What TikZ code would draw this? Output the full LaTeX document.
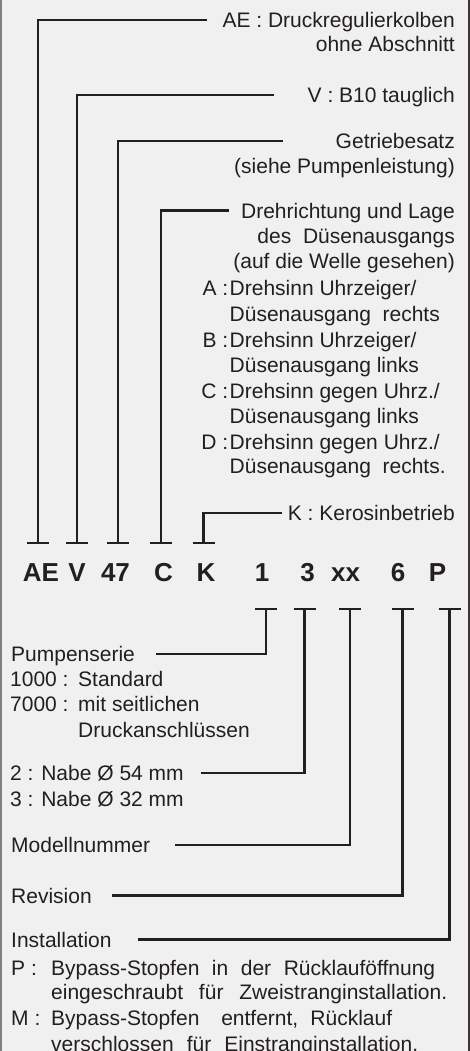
\documentclass[tikz,border=0pt]{standalone}
\usepackage{fontspec}
\setmainfont{Liberation Sans}
\definecolor{panel}{HTML}{F0F0F0}
\definecolor{ink}{HTML}{231F20}
\tikzset{
  lbl/.style={inner sep=0pt, text height=15pt, text depth=0pt, text=ink,
    font=\fontsize{21}{25}\selectfont},
  lblr/.style={lbl, anchor=east},
  lbll/.style={lbl, anchor=west},
  code/.style={inner sep=0pt, text height=19pt, text depth=0pt, text=ink,
    font=\fontsize{26}{30}\selectfont\bfseries},
  conn/.style={draw=ink, line width=2.8pt},
}
\begin{document}
\begin{tikzpicture}[x=1pt, y=-1pt]
\useasboundingbox (0,0) rectangle (470,1051);
\fill[panel] (0,0) rectangle (470,1051);
\draw[gray, line width=1.5pt] (0.75,0) -- (0.75,1051);
\draw[ink!90, line width=2pt] (469,0) -- (469,1051);

% code letters
\node[code] (cAE) at (41,572) {AE};
\node[code] (cV) at (77,572) {V};
\node[code] (c47) at (115.5,572) {47};
\node[code] (cC) at (163.5,572) {C};
\node[code] (cK) at (206,572) {K};
\node[code] (c1) at (262,572) {1};
\node[code] (c3) at (307.5,572) {3};
\node[code] (cxx) at (345.5,572) {xx};
\node[code] (c6) at (398,572) {6};
\node[code] (cP) at (437.5,572) {P};

\coordinate (tAE) at (38,543);
\coordinate (tV) at (77,543);
\coordinate (t47) at (118,543);
\coordinate (tC) at (161,543);
\coordinate (tK) at (203.5,543);
\coordinate (t1) at (266,609);
\coordinate (t3) at (304.5,609);
\coordinate (txx) at (350,609);
\coordinate (t6) at (402.5,609);
\coordinate (tP) at (449.5,609);

% upper labels
\node[lblr] (aeL) at (455,20) {AE : Druckregulierkolben};
\node[lblr] (aeL2) at (455,44) {ohne Abschnitt};
\node[lblr] (vL) at (455,95) {V : B10 tauglich};
\node[lblr] (gL) at (455,141) {Getriebesatz};
\node[lblr] (gL2) at (455,166) {(siehe Pumpenleistung)};
\node[lblr] (dL) at (455,210.5) {Drehrichtung und Lage};
\node[lblr] (dL2) at (455,236) {des\ \ Düsenausgangs};
\node[lblr] (dL3) at (455,261) {(auf die Welle gesehen)};
\node[lblr] (optA) at (228.5,287.5) {A :};
\node[lbll] (optAt) at (229.5,287.5) {Drehsinn Uhrzeiger/};
\node[lbll] (optAt2) at (229.5,313.5) {Düsenausgang\ \ rechts};
\node[lblr] (optB) at (228.5,339.5) {B :};
\node[lbll] (optBt) at (229.5,339.5) {Drehsinn Uhrzeiger/};
\node[lbll] (optBt2) at (229.5,364.5) {Düsenausgang links};
\node[lblr] (optC) at (228.5,390.5) {C :};
\node[lbll] (optCt) at (229.5,390.5) {Drehsinn gegen Uhrz./};
\node[lbll] (optCt2) at (229.5,415.5) {Düsenausgang links};
\node[lblr] (optD) at (228.5,441.5) {D :};
\node[lbll] (optDt) at (229.5,441.5) {Drehsinn gegen Uhrz./};
\node[lbll] (optDt2) at (229.5,465.5) {Düsenausgang\ \ rechts.};
\node[lblr] (kL) at (455,513) {K : Kerosinbetrieb};

% lower labels
\node[lbll] (pumpL) at (11,654) {Pumpenserie};
\node[lbll] (s1000) at (10,679) {1000 :};
\node[lbll] (s1000t) at (78,679) {Standard};
\node[lbll] (s7000) at (10,704) {7000 :};
\node[lbll] (s7000t) at (78,704) {mit seitlichen};
\node[lbll] (s7000t2) at (78,730) {Druckanschlüssen};
\node[lbll] (nabeA) at (10,773) {2 : Nabe Ø 54 mm};
\node[lbll] (nabeB) at (10,799) {3 : Nabe Ø 32 mm};
\node[lbll] (modL) at (11,845) {Modellnummer};
\node[lbll] (revL) at (11,895.5) {Revision};
\node[lbll] (instL) at (11,939.5) {Installation};
\node[lbll] (instP) at (11,967.5) {P :};
\node[lbll] (instPt) at (51,967.5) {\makebox[384pt][s]{Bypass-Stopfen in der Rücklauföffnung}};
\node[lbll] (instPt2) at (51,992) {\makebox[396pt][s]{eingeschraubt für Zweistranginstallation.}};
\node[lbll] (instM) at (11,1018) {M :};
\node[lbll] (instMt) at (51,1018) {\makebox[341pt][s]{Bypass-Stopfen\ \ entfernt, Rücklauf}};
\node[lbll] (instMt2) at (51,1044) {\makebox[367pt][s]{verschlossen für Einstranginstallation.}};

% tees
\foreach \t in {tAE,tV,t47,tC,tK,t1,t3,txx,t6,tP}
  \draw[conn] ([xshift=-11pt]\t) -- ([xshift=11pt]\t);

% connectors
\draw[conn] (tAE) |- (aeL) [shorten >=15pt];
\draw[conn, shorten >=34pt] (tV) |- (vL);
\draw[conn, shorten >=53pt] (t47) |- (gL);
\draw[conn, shorten >=12pt] (tC) |- (dL);
\draw[conn, shorten >=6pt] (tK) |- (kL);
\draw[conn, shorten >=21pt] (t1) |- (pumpL);
\draw[conn, shorten >=17pt] (t3) |- (nabeA);
\draw[conn, shorten >=25pt] (txx) |- (modL);
\draw[conn, shorten >=20pt] (t6) |- (revL);
\draw[conn, shorten >=26pt] (tP) |- (instL);

\end{tikzpicture}
\end{document}
